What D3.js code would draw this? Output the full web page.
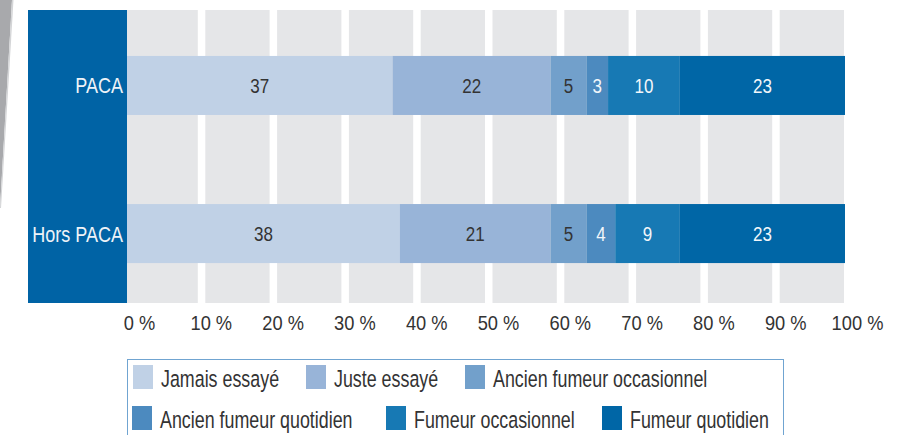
<!DOCTYPE html>
<html><head><meta charset="utf-8">
<script src="https://cdn.jsdelivr.net/npm/d3@7"></script>
<style>
html,body{margin:0;padding:0;background:#fff;}
svg{display:block;}
text{font-family:"Liberation Sans",Arial,sans-serif;}
</style></head>
<body>
<svg id="c" width="897" height="435"></svg>
<script>
const categories = ["PACA", "Hors PACA"];
const seriesNames = ["Jamais essayé", "Juste essayé", "Ancien fumeur occasionnel", "Ancien fumeur quotidien", "Fumeur occasionnel", "Fumeur quotidien"];
const pacaValues = [37, 22, 5, 3, 10, 23];
const horsPacaValues = [38, 21, 5, 4, 9, 23];
const tickValues = [0, 10, 20, 30, 40, 50, 60, 70, 80, 90, 100];
const tickLabels = ["0 %", "10 %", "20 %", "30 %", "40 %", "50 %", "60 %", "70 %", "80 %", "90 %", "100 %"];
const colors = ["#c0d1e6", "#98b4d8", "#72a0cb", "#4c8abf", "#1779b4", "#0066a6"];
const labelColors = ["#333333", "#333333", "#333333", "#f2f6fa", "#f2f6fa", "#f2f6fa"];

// horizontal condensing of text (condensed face not installed)
function narrow(sx) {
  return sel => sel.each(function () {
    const t = d3.select(this);
    const tx = +t.attr("x") || 0, ty = +t.attr("y") || 0;
    t.attr("x", 0).attr("y", 0).attr("transform", `translate(${tx},${ty}) scale(${sx},1)`);
  });
}

const svg = d3.select("#c");
const rows = [pacaValues, horsPacaValues];

const x = d3.scaleLinear().domain([0, 100]).range([127, 845]);
const y = d3.scaleBand().domain(categories).range([10, 303])
  .paddingInner(0.6014).paddingOuter(0.29).align(0.535);

// decorative grey stripe
svg.append("path").attr("d", "M0,0 L12,0 L0,208 Z").attr("fill", "#a8a9ac");
svg.append("path").attr("d", "M12,0 L13.5,0 L1,208 L0,208 Z").attr("fill", "#d4d5d7");

// label panel
svg.append("rect").attr("x", 28).attr("y", 10).attr("width", x(0) - 28).attr("height", 293).attr("fill", "#0063a5");

// grey columns
const cols = d3.range(10);
svg.append("g").selectAll("rect").data(cols).join("rect")
  .attr("x", d => d === 0 ? x(0) : x(d * 10) + 6.5)
  .attr("width", d => x(d * 10 + 10) - 1 - (d === 0 ? x(0) : x(d * 10) + 6.5))
  .attr("y", 10).attr("height", 293)
  .attr("fill", "#e5e6e8");

// stacked bars
const data = categories.map((c, i) => {
  let acc = 0;
  return rows[i].map((v, j) => { const s = acc; acc += v; return {cat: c, j, v, x0: s, x1: acc}; });
});
const g = svg.append("g");
data.forEach(segs => {
  g.selectAll(null).data(segs).join("rect")
    .attr("x", d => x(d.x0)).attr("width", d => x(d.x1) - x(d.x0))
    .attr("y", d => y(d.cat)).attr("height", y.bandwidth())
    .attr("fill", d => colors[d.j]);
  g.selectAll(null).data(segs).join("text")
    .attr("x", d => (x(d.x0) + x(d.x1)) / 2).attr("y", d => y(d.cat) + y.bandwidth() / 2 + 7.5)
    .attr("text-anchor", "middle").attr("font-size", 21)
    .attr("fill", d => labelColors[d.j]).text(d => d.v)
    .call(narrow(0.81));
});

// category labels
svg.append("g").selectAll("text").data(categories).join("text")
  .attr("x", x(0) - 4).attr("y", d => y(d) + y.bandwidth() / 2 + 8)
  .attr("text-anchor", "end").attr("font-size", 22).attr("fill", "#eef3f8")
  .text(d => d)
  .call(narrow(0.82));

// x axis labels
const axis = d3.axisBottom(x).tickValues(tickValues).tickSize(0).tickPadding(0)
  .tickFormat((d, i) => tickLabels[i]);
const ax = svg.append("g").attr("transform", "translate(12,330)").call(axis);
ax.select(".domain").remove();
ax.selectAll("text").attr("font-size", 21).attr("fill", "#333").attr("dy", 0).attr("y", 0)
  .style("font-family", "'Liberation Sans',Arial,sans-serif")
  .attr("transform", "scale(0.87,1)");

// legend
svg.append("rect").attr("x", 127.5).attr("y", 359.5).attr("width", 656).attr("height", 90)
  .attr("fill", "none").attr("stroke", "#70a4d1").attr("stroke-width", 1);
const legendPos = [[133, 365], [306, 365], [465, 365], [132, 406], [386, 406], [602, 406]];
const lg = svg.append("g").selectAll("g").data(seriesNames).join("g")
  .attr("transform", (d, i) => `translate(${legendPos[i][0]},${legendPos[i][1]})`);
lg.append("rect").attr("width", 20).attr("height", 24).attr("fill", (d, i) => colors[i]);
lg.append("text").attr("x", 28).attr("y", 22).attr("font-size", 23.5).attr("fill", "#333").text(d => d)
  .call(narrow(0.76));
</script>
</body></html>
